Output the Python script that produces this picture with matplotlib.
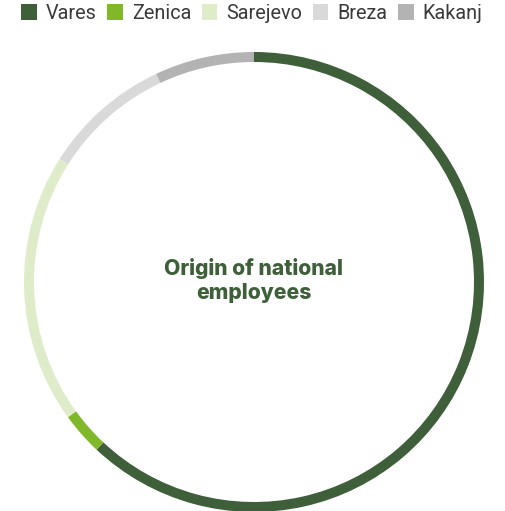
import matplotlib

matplotlib.use("Agg")
import matplotlib.pyplot as plt

# share of national employees by town (percent)
towns = ["Vares", "Zenica", "Sarejevo", "Breza", "Kakanj"]
shares = [62, 3, 19, 9, 7]
colors = ["#3e5f3a", "#80b829", "#dfecc9", "#d9d9d9", "#b3b3b3"]

W, H = 506, 511
fig = plt.figure(figsize=(W / 100, H / 100), dpi=100)

# ring: centre (254, 282) px, outer radius 230 px
r_px = 230
cx, cy = 254, 282
ax = fig.add_axes([(cx - r_px) / W, (H - cy - r_px) / H, 2 * r_px / W, 2 * r_px / H])

wedges, _ = ax.pie(
    shares,
    colors=colors,
    startangle=90,
    counterclock=False,
    radius=1.0,
    wedgeprops=dict(width=10 / r_px, linewidth=0),
)
ax.set_xlim(-1, 1)
ax.set_ylim(-1, 1)
ax.set_aspect("equal")
ax.axis("off")

ax.text(
    0, 0.005, "Origin of national\nemployees",
    ha="center", va="center",
    fontsize=15.2, fontweight="heavy", family=["Inter", "DejaVu Sans"],
    color="#3e5f3a", linespacing=1.25,
)

leg = fig.legend(
    wedges, towns,
    loc="upper left", bbox_to_anchor=(19 / W, 1 - 2 / H),
    ncol=5, frameon=False,
    prop=dict(family=["Roboto", "DejaVu Sans"], weight="normal", size=14.3),
    handlelength=0.8, handleheight=0.8,
    handletextpad=0.45, columnspacing=0.52, borderpad=0.1, borderaxespad=0,
)
for t in leg.get_texts():
    t.set_color("#3a3a3a")

fig.savefig("out.png", dpi=100)
